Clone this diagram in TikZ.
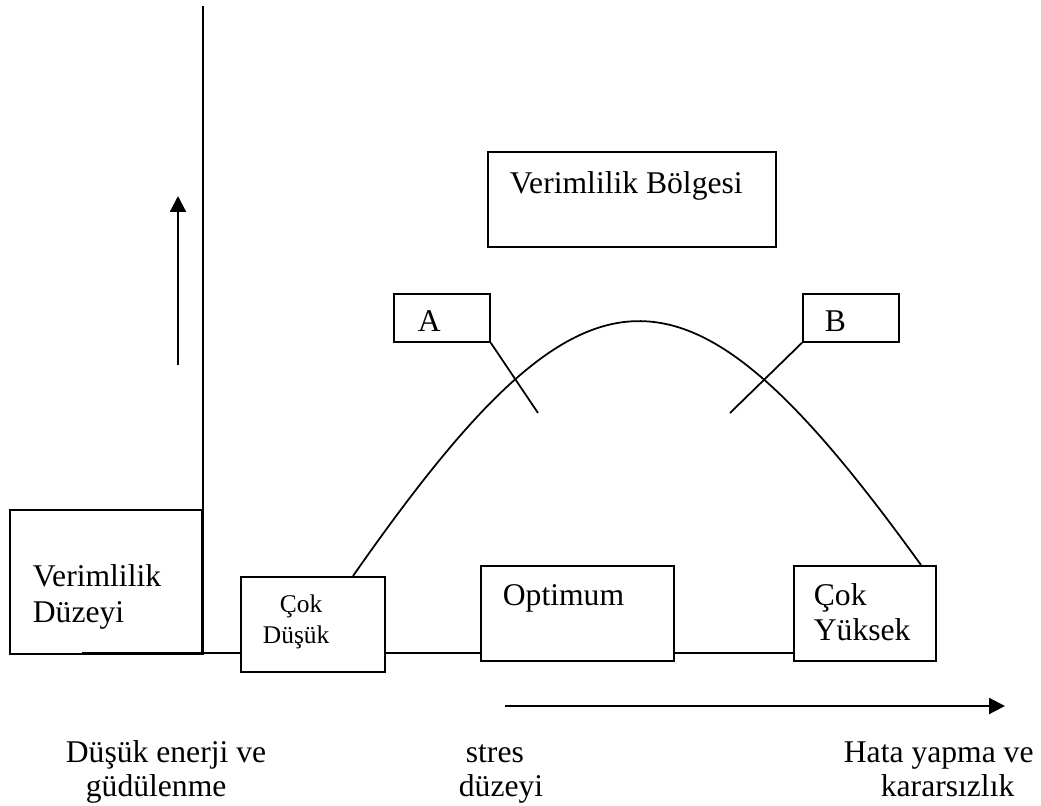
\documentclass[tikz,border=0pt]{standalone}
\usepackage{fontspec}
\setmainfont{Liberation Serif}
\usetikzlibrary{arrows.meta}
\begin{document}
\begin{tikzpicture}[x=0.02cm,y=-0.02cm,line width=1pt,
  box/.style={draw,line width=1pt,inner sep=0pt,anchor=north west},
  txt/.style={anchor=base west,inner sep=0pt,font=\fontsize{18}{22}\selectfont},
  smalltxt/.style={anchor=base west,inner sep=0pt,font=\fontsize{14.5}{17}\selectfont},
  arr/.style={-{Triangle[width=9pt,length=9pt]},line width=1.2pt}]
\useasboundingbox (0,0) rectangle (1041,805);
% boxes
\node[box,minimum width=192*0.02cm,minimum height=144*0.02cm] (dz) at (9,509) {};
\node[box,minimum width=144*0.02cm,minimum height=95*0.02cm] (cd) at (240,576) {};
\node[box,minimum width=193*0.02cm,minimum height=95*0.02cm] (op) at (480,565) {};
\node[box,minimum width=142*0.02cm,minimum height=95*0.02cm] (cy) at (793,565) {};
\node[box,minimum width=288*0.02cm,minimum height=95*0.02cm] (vb) at (487,151) {};
\node[box,minimum width=96*0.02cm,minimum height=48*0.02cm] (A) at (393,293) {};
\node[box,minimum width=96*0.02cm,minimum height=48*0.02cm] (B) at (802,293) {};
% axes
\coordinate (ax0) at (203,6);
\coordinate (ax1) at (203,655);
\draw (ax0) -- (ax1);
\coordinate (b0) at (82,653);
\draw (b0) -- (b0 -| cd.west);
\draw (cd.east |- b0) -- (op.west |- b0);
\draw (op.east |- b0) -- (cy.west |- b0);
% curve
\coordinate (c0) at (353,576);
\coordinate (c1) at (921,565);
\draw (c0) .. controls (589,238) and (685,238) .. (c1);
% callouts
\coordinate (ae) at (538,413);
\coordinate (be) at (730,413);
\draw (A.south east) -- (ae);
\draw (B.south west) -- (be);
% arrows
\coordinate (u0) at (178,365);
\coordinate (u1) at (178,196);
\draw[arr] (u0) -- (u1);
\coordinate (r0) at (505,706);
\coordinate (r1) at (1005,706);
\draw[arr] (r0) -- (r1);
% texts
\node[txt] (tvb) at (509,193) {Verimlilik Bölgesi};
\node[txt] (tdz1) at (32,586) {Verimlilik};
\node[txt] (tdz2) at (32,622) {Düzeyi};
\node[smalltxt] (tcd1) at (279,612) {Çok};
\node[smalltxt] (tcd2) at (262,643) {Düşük};
\node[txt] (top) at (502,605) {Optimum};
\node[txt] (tcy1) at (813,605) {Çok};
\node[txt] (tcy2) at (813,640) {Yüksek};
\node[txt] (tA) at (417,331) {A};
\node[txt] (tB) at (824,331) {B};
\node[txt] (l1) at (65,762) {Düşük enerji ve};
\node[txt] (l2) at (85,796) {güdülenme};
\node[txt] (m1) at (465,762) {stres};
\node[txt] (m2) at (458,796) {düzeyi};
\node[txt] (r1t) at (843,762) {Hata yapma ve};
\node[txt] (r2t) at (880,796) {kararsızlık};
\end{tikzpicture}
\end{document}
